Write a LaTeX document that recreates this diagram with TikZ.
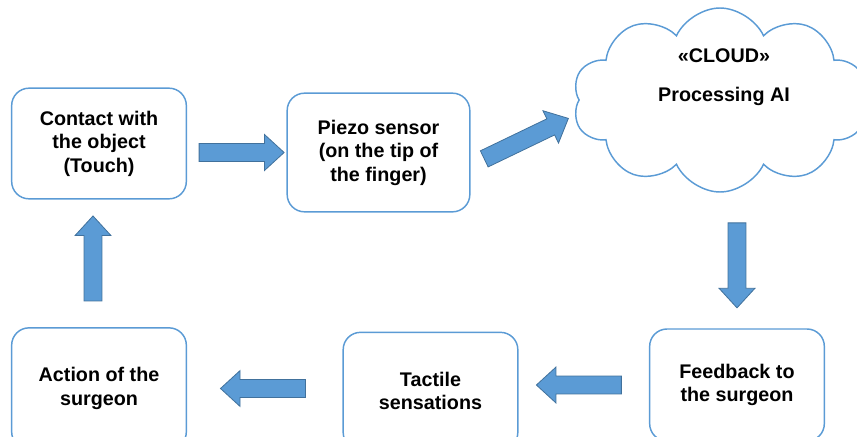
\documentclass[tikz,border=0pt]{standalone}
\usepackage{fontspec}
\setmainfont{Liberation Sans}
\usetikzlibrary{shapes.arrows,shapes.symbols,calc}
\definecolor{boxline}{HTML}{5B9BD5}
\definecolor{arrowfill}{HTML}{5B9BD5}
\definecolor{arrowline}{HTML}{41719C}
\tikzset{
  stepbox/.style={draw=boxline, line width=1.1pt, rounded corners=13pt, fill=white,
    minimum width=131pt, minimum height=88pt, align=center,
    font=\fontsize{14.8}{17.6}\selectfont\bfseries},
  cloudshape/.style={cloud, cloud puffs=10, cloud puff arc=130, draw=boxline,
    line width=1.1pt, minimum width=221pt, minimum height=138pt},
  cloudtext/.style={align=center, font=\fontsize{14.8}{17.6}\selectfont\bfseries},
  blockarrow/.style={single arrow, draw=arrowline, fill=arrowfill, line width=0.6pt,
    inner xsep=0pt, inner ysep=6.4pt, single arrow head extend=6.75pt,
    single arrow tip angle=85, minimum height=63.75pt, sloped, allow upside down}
}
\begin{document}
\begin{tikzpicture}[x=0.75pt, y=-0.75pt]
  \useasboundingbox (0,0) rectangle (857,436);
  \clip (0,0) rectangle (857,436);
  % steps
  \node[stepbox, minimum height=83pt] (contact) at (99,143.5) {Contact with\\the object\\(Touch)};
  \node[stepbox, minimum width=137pt, minimum height=89pt] (piezo) at (378.5,152.5) {Piezo sensor\\(on the tip of\\the finger)};
  \node[cloudshape] (cloud) at (720,100) {};
  \node[cloudtext] (ai) at (724,77) {«CLOUD»\\[11.6pt]Processing AI};
  \node[stepbox, minimum height=84pt] (feedback) at (737,385) {Feedback to\\the surgeon};
  \node[stepbox] (tactile) at (430.5,391) {Tactile\\sensations};
  \node[stepbox, minimum height=91pt] (action) at (99,388.5) {Action of the\\surgeon};
  % arrows
  \path (contact.east |- piezo.west) -- node[blockarrow] {} (piezo.west);
  \path ($(piezo.east)+(2,12)$) -- node[blockarrow, minimum height=70pt] {} ($(cloud.west)+(-7,17)$);
  \path (cloud.south -| feedback) -- node[blockarrow, pos=0.5] {} (feedback.north);
  \path (feedback.west) -- node[blockarrow] {} (tactile.east |- feedback.west);
  \path (tactile.west |- action) -- node[blockarrow, pos=0.48] {} (action.east);
  \path ($(action.north)+(-6,0)$) -- node[blockarrow, pos=0.5] {} ($(contact.south)+(-6,0)$);
\end{tikzpicture}
\end{document}
